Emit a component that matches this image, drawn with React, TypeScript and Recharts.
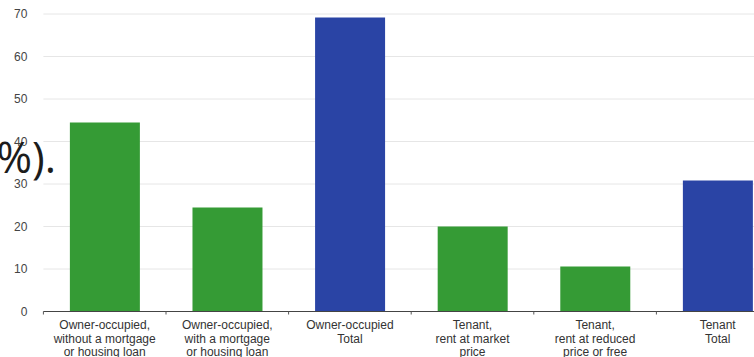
import React from 'react';
import { BarChart, Bar, XAxis, YAxis, CartesianGrid, Cell } from 'recharts';

// Dwelling tenure status, share of population (%)
const categories = ['ownNoLoan', 'ownLoan', 'ownTotal', 'rentMarket', 'rentReduced', 'rentTotal'];
const categoryLines: string[][] = [
  ['Owner-occupied,', 'without a mortgage', 'or housing loan'],
  ['Owner-occupied,', 'with a mortgage', 'or housing loan'],
  ['Owner-occupied', 'Total'],
  ['Tenant,', 'rent at market', 'price'],
  ['Tenant,', 'rent at reduced', 'price or free'],
  ['Tenant', 'Total'],
];
const shares = [44.5, 24.5, 69.2, 20.0, 10.6, 30.8];
const isTotal = [false, false, true, false, false, true];
const yTicks = [0, 10, 20, 30, 40, 50, 60, 70];

const PART_COLOR = '#359b35';
const TOTAL_COLOR = '#2a44a5';

const data = categories.map((key, i) => ({ key, value: shares[i] }));

const FONT = '"Liberation Sans", Arial, sans-serif';

const CategoryTick = (props: any) => {
  const { x, y, payload } = props;
  const half = payload && typeof payload.offset === 'number' ? payload.offset : 0;
  const idx = categories.indexOf(payload.value);
  const lines = idx >= 0 ? categoryLines[idx] : [String(payload.value)];
  return (
    <g>
      <line x1={x - half} x2={x - half} y1={y} y2={y + 3} stroke="#555" strokeWidth={1} />
      <text x={x} y={y + 17.5} textAnchor="middle" fontSize={12} fill="#333" fontFamily={FONT}>
        {lines.map((line, i) => (
          <tspan key={i} x={x} dy={i === 0 ? 0 : 13.5}>
            {line}
          </tspan>
        ))}
      </text>
    </g>
  );
};

export default function App() {
  return (
    <div
      style={{
        position: 'absolute',
        left: 0,
        top: 0,
        width: 754,
        height: 357,
        overflow: 'hidden',
        background: '#fff',
      }}
    >
      <BarChart
        width={790}
        height={380}
        data={data}
        margin={{ top: 14, right: 11, bottom: 18.5, left: 0 }}
        barCategoryGap="21.6%"
      >
        <CartesianGrid vertical={false} stroke="#e6e6e6" />
        <YAxis
          type="number"
          domain={[0, 70]}
          ticks={yTicks}
          width={43.4}
          axisLine={false}
          tickLine={false}
          tickSize={0}
          tickMargin={16}
          tick={{ fontSize: 12, fill: '#444', fontFamily: FONT }}
        />
        <XAxis
          dataKey="key"
          height={50}
          interval={0}
          axisLine={{ stroke: '#444', strokeWidth: 1 }}
          tickLine={false}
          tickSize={0}
          tickMargin={0}
          tick={<CategoryTick />}
        />
        <Bar dataKey="value" isAnimationActive={false}>
          {data.map((d, i) => (
            <Cell key={d.key} fill={isTotal[i] ? TOTAL_COLOR : PART_COLOR} />
          ))}
        </Bar>
      </BarChart>
      <svg
        width={754}
        height={357}
        style={{ position: 'absolute', left: 0, top: 0, pointerEvents: 'none' }}
      >
        <text x={56} y={173} textAnchor="end" fontSize={43} fill="#1c1c1c" fontFamily='"Open Sans", sans-serif'>
          (%).
        </text>
      </svg>
    </div>
  );
}
